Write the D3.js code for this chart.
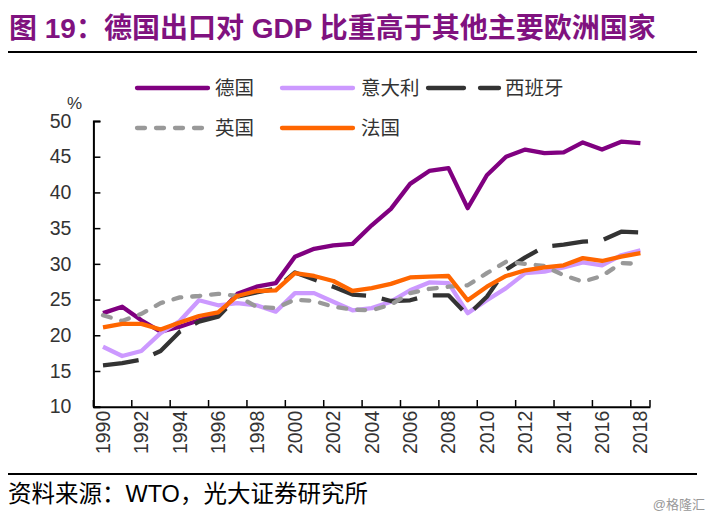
<!DOCTYPE html>
<html><head><meta charset="utf-8">
<script src="https://cdn.jsdelivr.net/npm/d3@7"></script>
<style>body{margin:0;background:#fff}svg{display:block}</style>
</head><body>
<svg id="c" width="709" height="518"></svg>
<script>
const years = d3.range(1990, 2019);
const tickLabels = ["1990","1992","1994","1996","1998","2000","2002","2004","2006","2008","2010","2012","2014","2016","2018"];
const yTicks = [10,15,20,25,30,35,40,45,50];
const germany = [23.1,24.0,22.1,20.5,21.2,22.1,22.9,25.8,26.8,27.3,31.0,32.1,32.6,32.8,35.4,37.7,41.2,43.0,43.4,37.8,42.4,45.0,46.0,45.5,45.6,47.0,46.0,47.1,46.9];
const italy   = [18.4,17.1,17.8,20.3,22.0,24.9,24.2,24.5,24.2,23.3,25.9,25.9,24.7,23.5,23.8,24.7,26.3,27.4,27.3,23.1,24.9,26.6,28.7,28.9,29.5,30.2,29.8,31.2,31.9];
const spain   = [15.8,16.1,16.6,17.8,20.5,21.9,22.6,25.4,26.0,26.5,28.8,27.8,26.8,25.7,25.5,24.8,24.9,25.6,25.6,22.8,25.4,29.2,30.9,32.4,32.7,33.1,33.3,34.5,34.4];
const uk      = [22.8,22.0,23.0,24.5,25.3,25.5,25.8,25.5,24.0,23.8,25.0,24.8,24.0,23.6,23.5,24.3,25.9,26.5,26.8,27.0,28.7,30.3,30.0,29.7,28.4,27.5,28.3,30.1,30.0];
const france  = [21.1,21.6,21.6,20.8,21.8,22.7,23.2,25.5,26.2,26.3,28.7,28.3,27.6,26.2,26.6,27.2,28.1,28.2,28.3,24.9,26.8,28.3,29.1,29.5,29.8,30.8,30.4,31.0,31.5];
const seriesNames = ["德国","意大利","西班牙","英国","法国"];

const series = [
  {name:seriesNames[0], values:germany, color:"#800080", dash:null, cap:"butt"},
  {name:seriesNames[1], values:italy,   color:"#CC99FF", dash:null, cap:"butt"},
  {name:seriesNames[2], values:spain,   color:"#333333", dash:"36,16", cap:"butt"},
  {name:seriesNames[3], values:uk,      color:"#999999", dash:"8,11", cap:"round"},
  {name:seriesNames[4], values:france,  color:"#FF6600", dash:null, cap:"butt"}
];

const svg = d3.select("#c");
const FONT = "'Liberation Sans', Arial, 'Noto Sans CJK SC', sans-serif";

// Title
svg.append("text").attr("x",9).attr("y",38)
  .attr("font-family",FONT).attr("font-weight","bold").attr("font-size",28)
  .attr("fill","#80127F").text("图 19：德国出口对 GDP 比重高于其他主要欧洲国家");
svg.append("line").attr("x1",8).attr("x2",697).attr("y1",52).attr("y2",52)
  .attr("stroke","#000").attr("stroke-width",2.2);

const x = d3.scaleBand().domain(years).range([93.4, 650]).padding(0);
const y = d3.scaleLinear().domain([10,50]).range([406.7, 121]);
const cx = d => x(d) + x.bandwidth()/2;

// Lines
const line = d3.line().x((d,i)=>cx(years[i])).y(d=>y(d));
series.forEach(s=>{
  svg.append("path").datum(s.values).attr("d",line)
    .attr("fill","none").attr("stroke",s.color).attr("stroke-width",4.3)
    .attr("stroke-linejoin","round").attr("stroke-linecap",s.cap)
    .attr("stroke-dasharray",s.dash);
});

// Y axis
const yAxis = d3.axisLeft(y).tickValues(yTicks).tickSize(-7).tickPadding(22).tickFormat(d3.format("d"));
const gy = svg.append("g").attr("transform","translate(93.4,0)").call(yAxis);
gy.select(".domain").attr("stroke","#000").attr("stroke-width",2);
gy.selectAll(".tick line").attr("stroke","#000").attr("stroke-width",1.5);
gy.selectAll(".tick text").attr("font-family",FONT).attr("font-size",19.5).attr("fill","#333");

// X axis
const xAxis = d3.axisBottom(x).tickValues(tickLabels.map(Number)).tickSize(0).tickPadding(0);
const gx = svg.append("g").attr("transform","translate(0,406.7)").call(xAxis);
gx.select(".domain").attr("stroke","#000").attr("stroke-width",2);
gx.selectAll(".tick text").attr("font-family",FONT).attr("font-size",19.5).attr("fill","#333")
  .attr("text-anchor","end").attr("dy",null).attr("y",0)
  .attr("transform","translate(0,4) rotate(-90)").attr("dx",0).attr("dominant-baseline","central");
// boundary tick marks (between categories, every two years)
tickLabels.forEach(t=>{
  const xv = x(+t);
  svg.append("line").attr("x1",xv).attr("x2",xv).attr("y1",406.7).attr("y2",400)
    .attr("stroke","#000").attr("stroke-width",1.5);
});
svg.append("line").attr("x1",650).attr("x2",650).attr("y1",406.7).attr("y2",400)
    .attr("stroke","#000").attr("stroke-width",1.5);

// % unit
svg.append("text").attr("x",67).attr("y",109).attr("font-family",FONT).attr("font-size",17).attr("fill","#333").text("%");

// Legend
const legendPos = [
  {lx:137, ly:88, tx:215},
  {lx:282, ly:88, tx:361},
  {lx:428, ly:88, tx:505},
  {lx:137, ly:128, tx:215},
  {lx:282, ly:128, tx:361}
];
series.forEach((s,i)=>{
  const p = legendPos[i];
  svg.append("line").attr("x1",p.lx).attr("x2",p.lx+71).attr("y1",p.ly).attr("y2",p.ly)
    .attr("stroke",s.color).attr("stroke-width",4.3).attr("stroke-linecap","round")
    .attr("stroke-dasharray",s.dash);
  svg.append("text").attr("x",p.tx).attr("y",p.ly+7).attr("font-family",FONT).attr("font-size",19.5)
    .attr("fill","#333").text(s.name);
});

// Footer
svg.append("line").attr("x1",8).attr("x2",697).attr("y1",474).attr("y2",474)
  .attr("stroke","#000").attr("stroke-width",2.2);
svg.append("text").attr("x",8).attr("y",502).attr("font-family",FONT).attr("font-size",23.5)
  .attr("fill","#000").text("资料来源：WTO，光大证券研究所");
svg.append("text").attr("x",705).attr("y",509).attr("text-anchor","end").attr("font-family",FONT).attr("font-size",13)
  .attr("fill","#999").text("@格隆汇");
</script>
</body></html>
